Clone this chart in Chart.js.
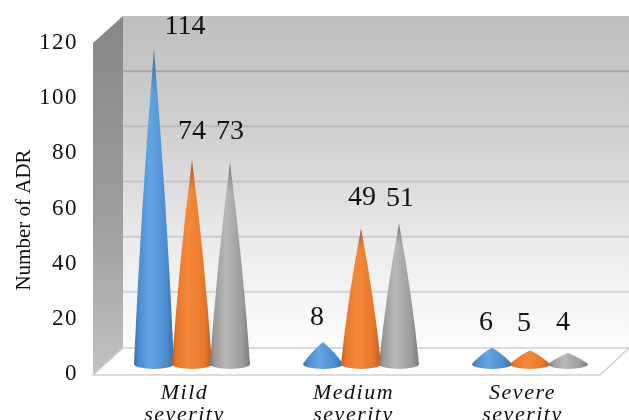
<!DOCTYPE html>
<html>
<head>
<meta charset="utf-8">
<style>
    html, body { margin: 0; padding: 0; background: #fff; overflow: hidden; }
    canvas { display: block; }
</style>
<script src="https://cdn.jsdelivr.net/npm/chart.js@4"></script>
</head>
<body>
<canvas id="chartADR" width="629" height="420"></canvas>
<script>
const categories = [['Mild', 'severity'], ['Medium', 'severity'], ['Severe', 'severity']];
const serieAzul = [114, 8, 6];
const serieNaranja = [74, 49, 5];
const serieGris = [73, 51, 4];
const yTicks = [0, 20, 40, 60, 80, 100, 120];
const yTitulo = 'Number of ADR';

// Colores de cada cono: borde oscuro, brillo, cuerpo
const conos = [
    { borde: '#3a6fa8', brillo: '#62a5e4', cuerpo: '#4c8dd0' },
    { borde: '#c05f1c', brillo: '#f5893b', cuerpo: '#e8782c' },
    { borde: '#7c7c7c', brillo: '#b8b8b8', cuerpo: '#9c9c9c' }
];

// Ajuste fino de cada etiqueta de valor [dx, dy], por serie y categoría
const ajusteEtiquetas = [
    [[31, 3], [-6, 2], [-6, 1]],
    [[0, -2], [1, -5], [-6, -1]],
    [[0, -5], [1, 1], [-5, -4]]
];

// Tono de cada línea de la cuadrícula
const colorGrid = { 20: '#d4d4d4', 40: '#cccccc', 60: '#c4c4c4', 80: '#bcbcbc', 100: '#a8a8a8' };

// Perspectiva de la caja 3D
const fondoX = 30, fondoY = 27;
const conoX = 7.5, conoY = 10, conoAncho = 20, conoElipse = 5;

const cajaPlugin = {
    id: 'caja3d',
    beforeDraw(chart) {
        // Las etiquetas de los ejes van algo más espaciadas
        chart.ctx.letterSpacing = '1.5px';
    },
    beforeDatasetsDraw(chart) {
        const { ctx, chartArea: a, scales: { y } } = chart;
        ctx.letterSpacing = '0px';
        const izq = a.left - 7, der = a.right - 7;
        const y0 = y.getPixelForValue(0) + 1, yTop = y.getPixelForValue(120);
        ctx.save();

        // Pared del fondo
        let g = ctx.createLinearGradient(0, yTop - fondoY, 0, y0 - fondoY);
        g.addColorStop(0, '#bfbfbf');
        g.addColorStop(0.35, '#d0d0d0');
        g.addColorStop(0.7, '#ececec');
        g.addColorStop(1, '#fcfcfc');
        ctx.fillStyle = g;
        ctx.fillRect(izq + fondoX, yTop - fondoY, 629 - izq - fondoX, y0 - yTop);

        // Pared lateral
        g = ctx.createLinearGradient(0, yTop - fondoY, 0, y0);
        g.addColorStop(0, '#868686');
        g.addColorStop(0.6, '#a0a0a0');
        g.addColorStop(1, '#c2c2c2');
        ctx.fillStyle = g;
        ctx.beginPath();
        ctx.moveTo(izq, yTop);
        ctx.lineTo(izq + fondoX, yTop - fondoY);
        ctx.lineTo(izq + fondoX, y0 - fondoY);
        ctx.lineTo(izq, y0);
        ctx.closePath();
        ctx.fill();

        // Líneas de la cuadrícula sobre el fondo
        yTicks.slice(1, -1).forEach(v => {
            const py = y.getPixelForValue(v) - fondoY;
            ctx.strokeStyle = colorGrid[v];
            ctx.lineWidth = 2;
            ctx.beginPath();
            ctx.moveTo(izq + fondoX, py);
            ctx.lineTo(629, py);
            ctx.stroke();
        });

        // Piso
        ctx.fillStyle = '#ffffff';
        ctx.strokeStyle = '#cfcfcf';
        ctx.lineWidth = 1.5;
        ctx.beginPath();
        ctx.moveTo(izq, y0);
        ctx.lineTo(izq + fondoX, y0 - fondoY);
        ctx.lineTo(629, y0 - fondoY);
        ctx.lineTo(der, y0);
        ctx.closePath();
        ctx.fill();
        ctx.stroke();
        ctx.restore();
    },
    afterDatasetsDraw(chart) {
        const { ctx } = chart;
        ctx.save();
        chart.data.datasets.forEach((ds, i) => {
            const color = conos[i];
            chart.getDatasetMeta(i).data.forEach(bar => {
                const cx = bar.x + conoX;
                const base = bar.base - conoY;
                const punta = bar.y - conoY;
                const alto = base - punta;
                const medio = (punta + base) / 2;

                const g = ctx.createLinearGradient(cx - conoAncho, 0, cx + conoAncho, 0);
                g.addColorStop(0, color.borde);
                g.addColorStop(0.12, color.cuerpo);
                g.addColorStop(0.4, color.brillo);
                g.addColorStop(0.8, color.cuerpo);
                g.addColorStop(1, color.borde);

                // Silueta con los lados apenas abombados
                ctx.beginPath();
                ctx.moveTo(cx, punta);
                ctx.quadraticCurveTo(cx + conoAncho / 2 + 3, medio, cx + conoAncho, base);
                ctx.ellipse(cx, base, conoAncho, conoElipse, 0, 0, Math.PI);
                ctx.quadraticCurveTo(cx - conoAncho / 2 - 3, medio, cx, punta);
                ctx.closePath();
                ctx.fillStyle = g;
                ctx.fill();

                // En los conos altos la punta queda más oscura
                if (alto > 100) {
                    const sombra = ctx.createLinearGradient(0, punta, 0, punta + alto * 0.15);
                    sombra.addColorStop(0, 'rgba(20,30,50,0.4)');
                    sombra.addColorStop(1, 'rgba(20,30,50,0)');
                    ctx.fillStyle = sombra;
                    ctx.fill();
                }
            });
        });

        // Valor encima de cada cono
        ctx.fillStyle = '#111';
        ctx.font = '28px "Liberation Serif"';
        ctx.textAlign = 'center';
        ctx.textBaseline = 'middle';
        chart.data.datasets.forEach((ds, i) => {
            chart.getDatasetMeta(i).data.forEach((bar, j) => {
                const [dx, dy] = ajusteEtiquetas[i][j];
                ctx.fillText(ds.data[j], bar.x + conoX + dx, bar.y - conoY - 26 + dy);
            });
        });

        // Título del eje Y
        ctx.font = '21px "Liberation Serif"';
        ctx.translate(24, 220);
        ctx.rotate(-Math.PI / 2);
        ctx.fillText(yTitulo, 0, 0);
        ctx.restore();
    }
};

new Chart(document.getElementById('chartADR'), {
    type: 'bar',
    data: {
        labels: categories,
        datasets: [
            { label: 'A', data: serieAzul, backgroundColor: 'transparent' },
            { label: 'B', data: serieNaranja, backgroundColor: 'transparent' },
            { label: 'C', data: serieGris, backgroundColor: 'transparent' }
        ]
    },
    plugins: [cajaPlugin],
    options: {
        responsive: false,
        animation: false,
        layout: { padding: { top: 43, right: 22, left: 0, bottom: 0 } },
        plugins: { legend: { display: false }, tooltip: { enabled: false } },
        datasets: { bar: { categoryPercentage: 0.675, barPercentage: 1 } },
        scales: {
            x: {
                grid: { display: false },
                border: { display: false },
                afterFit: scale => { scale.height = 46; },
                ticks: {
                    maxRotation: 0,
                    padding: 0,
                    color: '#111',
                    font: { family: '"Liberation Serif"', size: 22, style: 'italic', lineHeight: 1 }
                }
            },
            y: {
                min: 0,
                max: 120,
                afterFit: scale => { scale.width = 100; },
                afterBuildTicks: scale => { scale.ticks = yTicks.map(value => ({ value })); },
                grid: { display: false },
                border: { display: false },
                ticks: {
                    padding: 14,
                    color: '#111',
                    font: { family: '"Liberation Serif"', size: 23 }
                }
            }
        }
    }
});
</script>
</body>
</html>
